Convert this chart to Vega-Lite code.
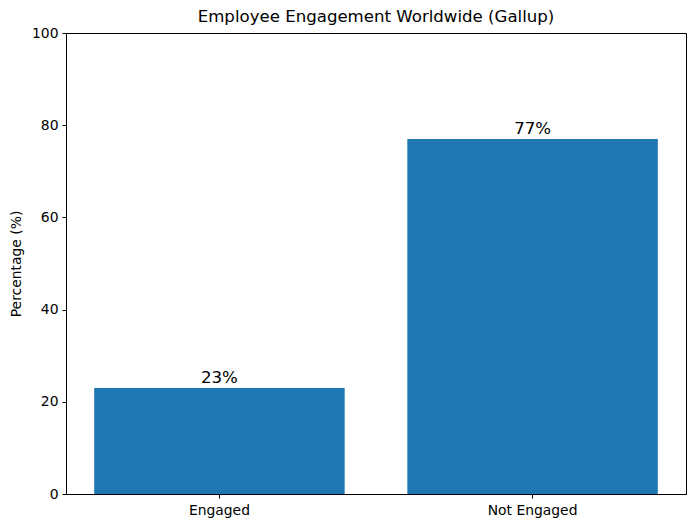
{
  "$schema": "https://vega.github.io/schema/vega-lite/v6.json",
  "autosize": "none",
  "width": 620,
  "height": 461,
  "padding": {"left": 66, "top": 33, "right": 9, "bottom": 34},
  "background": "white",
  "config": {
    "font": "DejaVu Sans",
    "view": {"stroke": "black", "strokeWidth": 1},
    "axis": {
      "domainColor": "black",
      "tickColor": "black",
      "labelColor": "black",
      "titleColor": "black",
      "grid": false,
      "labelFontSize": 13.9,
      "titleFontSize": 13.9,
      "titleFontWeight": "normal",
      "tickSize": 4,
      "labelPadding": 4
    }
  },
  "title": {"text": "Employee Engagement Worldwide (Gallup)", "fontSize": 16.6, "fontWeight": "normal", "color": "black", "offset": 0},
  "data": {"values": [
    {"category": "Engaged", "percent": 23, "label": "23%"},
    {"category": "Not Engaged", "percent": 77, "label": "77%"}
  ]},
  "encoding": {
    "x": {"field": "category", "type": "nominal", "sort": null,
      "scale": {"paddingInner": 0.2, "paddingOuter": 0.09},
      "axis": {"title": null, "labelAngle": 0, "labelPadding": 5}},
    "y": {"field": "percent", "type": "quantitative",
      "scale": {"domain": [0, 100], "nice": false},
      "axis": {"title": "Percentage (%)", "values": [0, 20, 40, 60, 80, 100], "titlePadding": 8}}
  },
  "layer": [
    {"mark": {"type": "bar", "color": "#1f77b4"}},
    {"mark": {"type": "text", "baseline": "alphabetic", "dy": -5, "fontSize": 16.6, "color": "black"},
     "encoding": {"text": {"field": "label", "type": "nominal"}}}
  ]
}
